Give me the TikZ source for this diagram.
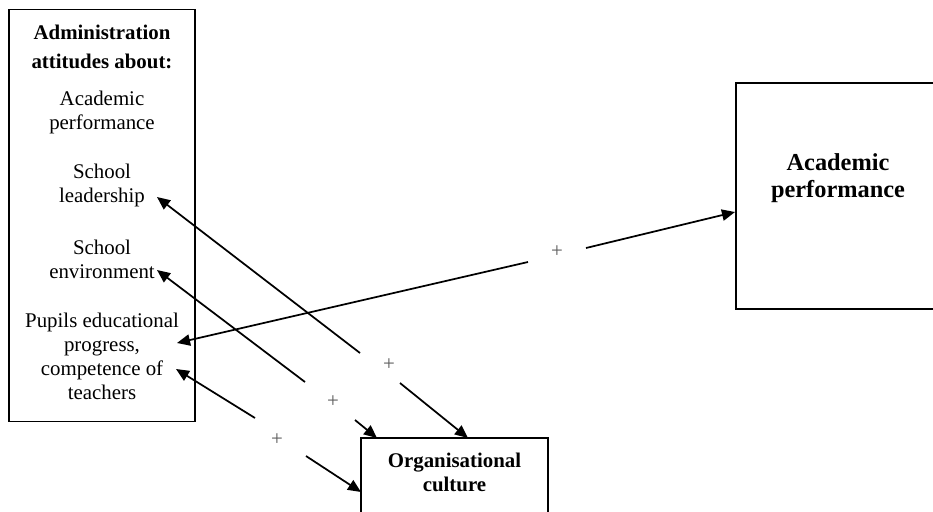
\documentclass[tikz,border=0pt]{standalone}
\usepackage{fontspec}
\setmainfont{Liberation Serif}
\usetikzlibrary{arrows.meta}
\begin{document}
\begin{tikzpicture}[x=0.575pt,y=-0.575pt,
  box/.style={draw, line width=0.7pt, inner sep=0pt},
  txt/.style={align=center, font=\fontsize{12}{13.8}\selectfont, inner sep=0pt},
  btxt/.style={align=center, font=\fontsize{12}{13.8}\selectfont\bfseries, inner sep=0pt},
  link/.style={line width=1pt, -{Triangle[length=7.5pt,width=6.5pt]}},
  plus/.style={text=black!65, font=\fontsize{12}{13.8}\selectfont, inner sep=0pt}]
\useasboundingbox (0,0) rectangle (933,511);
\clip (0,0) rectangle (933,511);

% boxes
\node[box, minimum width=106.95pt, minimum height=236.9pt] (adm) at (102,215.5) {};
\node[box, minimum width=117.3pt, minimum height=130pt] (perf) at (838,196) {};
\node[box, minimum width=107.5pt, minimum height=52.9pt] (org) at (454.5,484) {};

% texts of the attitudes box
\node[btxt, font=\fontsize{12}{16.6}\selectfont\bfseries] (title) at (102,46.5) {Administration\\attitudes about:};
\node[txt] (acad) at (102,112) {Academic\\performance};
\node[txt] (lead) at (102,185.5) {School\\leadership};
\node[txt] (env) at (102,259) {School\\environment};
\node[txt] (pup) at (102,356) {Pupils educational\\progress,\\competence of\\teachers};

\node[btxt, font=\fontsize{14}{15.5}\selectfont\bfseries] (perftxt) at (838,178.5) {Academic\\performance};
\node[btxt] (orgtxt) at (454.5,472) {Organisational\\culture};

% arrow ends
\coordinate (pupA) at (177,343);
\coordinate (perfA) at (735,212);
\coordinate (g1a) at (528,262);
\coordinate (g1b) at (586,248);

\coordinate (leadA) at (157,197);
\coordinate (orgA) at (468,438);
\coordinate (g2a) at (360,353);
\coordinate (g2b) at (400,383);

\coordinate (envA) at (157,270);
\coordinate (orgB) at (377,438);
\coordinate (g3a) at (305,382);
\coordinate (g3b) at (355,420);

\coordinate (pupB) at (176,369);
\coordinate (orgC) at (361,492);
\coordinate (g4a) at (255,418);
\coordinate (g4b) at (306,456);

% connectors, each broken where its sign stands
\draw[link] (g1a) -- (pupA);
\draw[link] (g1b) -- (perfA);
\draw[link] (g2a) -- (leadA);
\draw[link] (g2b) -- (orgA);
\draw[link] (g3a) -- (envA);
\draw[link] (g3b) -- (orgB);
\draw[link] (g4a) -- (pupB);
\draw[link] (g4b) -- (orgC);

% signs
\node[plus] (s1) at (557,252) {+};
\node[plus] (s2) at (389,365) {+};
\node[plus] (s3) at (333,402) {+};
\node[plus] (s4) at (277,440) {+};
\end{tikzpicture}
\end{document}
